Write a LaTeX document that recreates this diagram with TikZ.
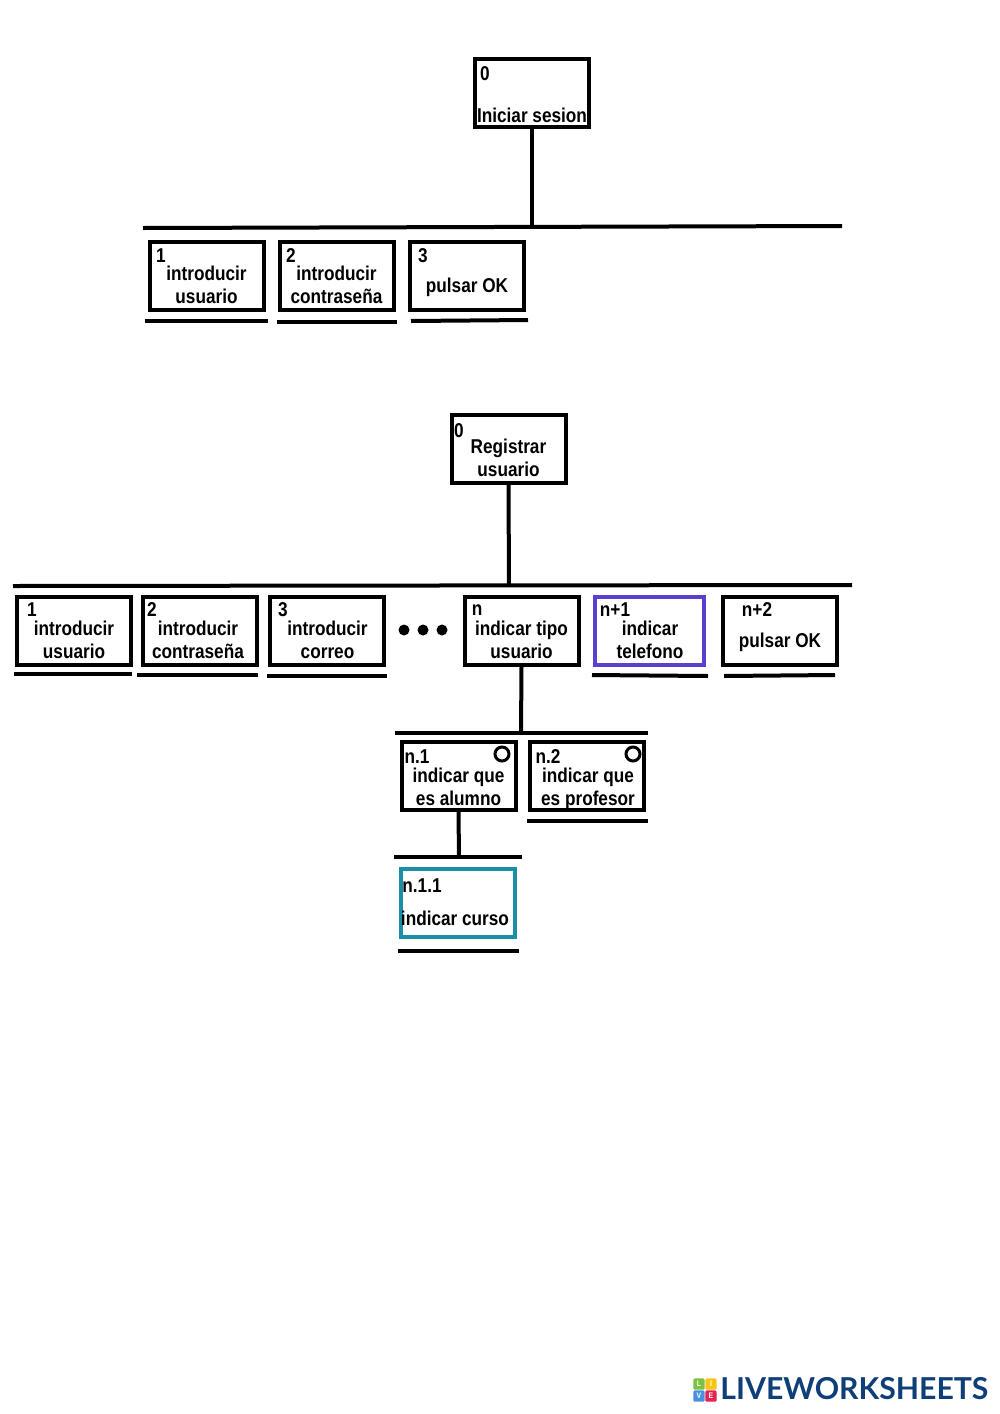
\documentclass[tikz,border=0pt]{standalone}
\usepackage{fontspec}
\setmainfont{Liberation Sans}[FakeStretch=0.86]
\newfontfamily\logofont{Lato}
\usetikzlibrary{positioning,calc}

\definecolor{telefonocolor}{HTML}{5B3FD0}
\definecolor{cursocolor}{HTML}{1A8FA8}
\definecolor{logocolor}{HTML}{0F3F78}
\definecolor{tilegreen}{HTML}{7CC242}
\definecolor{tileyellow}{HTML}{F5C518}
\definecolor{tileblue}{HTML}{4A90E2}
\definecolor{tilered}{HTML}{E8214F}

\begin{document}
\begin{tikzpicture}[
    x=0.5pt, y=-0.5pt,
    taskbox/.style={draw, line width=2pt, minimum width=57pt, minimum height=34pt, inner sep=0pt},
    tasktext/.style={align=center, inner sep=0pt, font=\fontsize{10}{11.5}\selectfont\bfseries},
    tasknum/.style={inner sep=0pt, font=\fontsize{10}{11.5}\selectfont\bfseries},
    link/.style={draw, line width=2pt},
    optmark/.style={circle, draw, line width=1.5pt, minimum size=7pt, inner sep=0pt},
    dotmark/.style={circle, fill=black, minimum size=5.5pt, inner sep=0pt},
    logotile/.style={rounded corners=0.6pt, minimum size=5.6pt, inner sep=0pt, text=white, font=\fontsize{4}{4}\selectfont\bfseries}
]
\useasboundingbox (0,0) rectangle (1000,1414);

% First tree: Iniciar sesion
\node[taskbox] (login) at (532,92.5) {};
\node[tasknum] (loginnum) at (485,74) {0};
\node[tasktext] (logintxt) at (532,115) {Iniciar sesion};

\coordinate (loginbarL) at (143,228);
\coordinate (loginbarR) at (842,226);
\coordinate (loginbarM) at (532,227);
\draw[link] (loginbarL) -- (loginbarR);
\draw[link] (login.south) -- (loginbarM);

\node[taskbox] (l1) at (206.5,276) {};
\node[taskbox] (l2) at (336.5,276) {};
\node[taskbox] (l3) at (466.5,276) {};
\node[tasknum] (l1num) at (161,256) {1};
\node[tasknum] (l2num) at (291,256) {2};
\node[tasknum] (l3num) at (423,256) {3};
\node[tasktext] (l1txt) at (206.5,285) {introducir\\usuario};
\node[tasktext] (l2txt) at (336.5,285) {introducir\\contraseña};
\node[tasktext] (l3txt) at (467,287) {pulsar OK};

\coordinate (l1a) at (145,321); \coordinate (l1b) at (268,321);
\coordinate (l2a) at (277,322); \coordinate (l2b) at (397,322);
\coordinate (l3a) at (411,321); \coordinate (l3b) at (528,320);
\draw[link] (l1a) -- (l1b);
\draw[link] (l2a) -- (l2b);
\draw[link] (l3a) -- (l3b);

% Second tree: Registrar usuario
\node[taskbox] (reg) at (508.5,448.5) {};
\node[tasknum] (regnum) at (459,431) {0};
\node[tasktext] (regtxt) at (508.5,458) {Registrar\\usuario};

\coordinate (regbarL) at (13,586);
\coordinate (regbarR) at (852,585);
\coordinate (regbarM) at (509,586);
\draw[link] (regbarL) -- (regbarR);
\draw[link] (reg.south) -- (regbarM);

\node[taskbox] (r1) at (73.5,630.5) {};
\node[taskbox] (r2) at (200,630.5) {};
\node[taskbox] (r3) at (327,630.5) {};
\node[taskbox] (rn) at (521.5,630.5) {};
\node[taskbox, draw=telefonocolor, minimum width=54.5pt] (rtel) at (649.5,630.5) {};
\node[taskbox] (rok) at (779.5,630.5) {};

\node[tasknum] (r1num) at (32,610) {1};
\node[tasknum] (r2num) at (152,610) {2};
\node[tasknum] (r3num) at (283,610) {3};
\node[tasknum] (rnnum) at (477,610) {n};
\node[tasknum] (rtelnum) at (615,610) {n+1};
\node[tasknum] (roknum) at (757,610) {n+2};

\node[tasktext] (r1txt) at (74,639.5) {introducir\\usuario};
\node[tasktext] (r2txt) at (198,639.5) {introducir\\contraseña};
\node[tasktext] (r3txt) at (327.5,639.5) {introducir\\correo};
\node[tasktext] (rntxt) at (521.5,639.5) {indicar tipo\\usuario};
\node[tasktext] (rteltxt) at (650,639.5) {indicar\\telefono};
\node[tasktext] (roktxt) at (780,642) {pulsar OK};

\node[dotmark] (dot1) at (404,630) {};
\node[dotmark] (dot2) at (423,630) {};
\node[dotmark] (dot3) at (442,630) {};

\coordinate (r1a) at (14,674); \coordinate (r1b) at (132,674);
\coordinate (r2a) at (137,675); \coordinate (r2b) at (258,675);
\coordinate (r3a) at (267,676); \coordinate (r3b) at (387,676);
\coordinate (rtela) at (592,675); \coordinate (rtelb) at (708,676);
\coordinate (roka) at (724,676); \coordinate (rokb) at (835,675);
\draw[link] (r1a) -- (r1b);
\draw[link] (r2a) -- (r2b);
\draw[link] (r3a) -- (r3b);
\draw[link] (rtela) -- (rtelb);
\draw[link] (roka) -- (rokb);

% Children of n
\coordinate (nbarL) at (395,733);
\coordinate (nbarR) at (648,733);
\coordinate (nbarM) at (521,733);
\draw[link] (nbarL) -- (nbarR);
\draw[link] (rn.south) -- (nbarM);

\node[taskbox] (n1) at (458.5,776) {};
\node[taskbox] (n2) at (587,776) {};
\node[tasknum] (n1num) at (417,757) {n.1};
\node[tasknum] (n2num) at (548,757) {n.2};
\node[tasktext] (n1txt) at (458.5,787) {indicar que\\es alumno};
\node[tasktext] (n2txt) at (588,789) {indicar que\\es profesor};
\node[optmark] (n1opt) at (502,754) {};
\node[optmark] (n2opt) at (633,754) {};

\coordinate (n2a) at (527,821); \coordinate (n2b) at (648,821);
\draw[link] (n2a) -- (n2b);

% Child of n.1
\coordinate (ubarL) at (394,857);
\coordinate (ubarR) at (522,857);
\coordinate (ubarM) at (459,857);
\draw[link] (ubarL) -- (ubarR);
\draw[link] (n1.south) -- (ubarM);

\node[taskbox, draw=cursocolor] (n11) at (458,903) {};
\node[tasknum] (n11num) at (422,886) {n.1.1};
\node[tasktext] (n11txt) at (455,918) {indicar curso};

\coordinate (n11a) at (398,951); \coordinate (n11b) at (519,951);
\draw[link] (n11a) -- (n11b);

% Logo
\node[logotile, fill=tilegreen] (tileL) at (699,1384) {L};
\node[logotile, fill=tileyellow] (tileI) at (711,1384) {I};
\node[logotile, fill=tileblue] (tileV) at (699,1396) {V};
\node[logotile, fill=tilered] (tileE) at (711,1396) {E};
\node[inner sep=0pt, anchor=west, text=logocolor, font=\logofont\fontsize{15.1}{16}\selectfont\bfseries] (logotxt) at (720,1389) {LIVEWORKSHEETS};

\end{tikzpicture}
\end{document}
